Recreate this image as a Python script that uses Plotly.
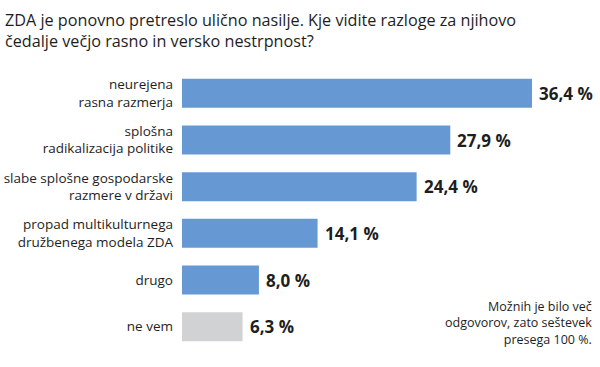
import plotly.graph_objects as go

categories = [
    "neurejena<br>rasna razmerja",
    "splošna<br>radikalizacija politike",
    "slabe splošne gospodarske<br>razmere v državi",
    "propad multikulturnega<br>družbenega modela ZDA",
    "drugo",
    "ne vem",
]
values = [36.4, 27.9, 24.4, 14.1, 8.0, 6.3]
value_labels = ["36,4 %", "27,9 %", "24,4 %", "14,1 %", "8,0 %", "6,3 %"]
colors = ["#6699d3"] * 5 + ["#d1d2d4"]

FONT = "Open Sans"
TXT = "#1e1e1e"

fig = go.Figure()
fig.add_trace(go.Bar(
    x=values, y=categories, orientation="h",
    marker=dict(color=colors, line=dict(width=0)),
    hoverinfo="skip",
))

for v, c, lab in zip(values, categories, value_labels):
    fig.add_annotation(x=v, y=c, text="<b>" + lab + "</b>", showarrow=False,
                       xanchor="left", yanchor="middle", xshift=5,
                       font=dict(family=FONT, size=17, color=TXT))

fig.add_annotation(
    xref="paper", yref="paper", x=1.0, y=0.0, xanchor="right", yanchor="bottom",
    xshift=4, text="Možnih je bilo več<br>odgovorov, zato seštevek<br>presega 100 %.",
    align="right", showarrow=False,
    font=dict(family=FONT, size=12.5, color=TXT),
)

fig.add_annotation(
    xref="paper", yref="paper", x=0, y=1.225, xanchor="left", yanchor="top",
    xshift=-179,
    text="ZDA je ponovno pretreslo ulično nasilje. Kje vidite razloge za njihovo<br>čedalje večjo rasno in versko nestrpnost?",
    align="left", showarrow=False,
    font=dict(family=FONT, size=16.2, color=TXT),
)

fig.update_layout(
    width=600, height=367,
    margin=dict(l=182, r=10, t=70, b=17),
    paper_bgcolor="white", plot_bgcolor="white",
    bargap=0.38,
    showlegend=False,
    xaxis=dict(range=[0, 42.43], visible=False, fixedrange=True, automargin=False),
    yaxis=dict(
        autorange="reversed", showgrid=False, zeroline=False, showline=False,
        ticks="", ticklabelstandoff=8, fixedrange=True, automargin=False,
        tickfont=dict(family=FONT, size=13.5, color=TXT),
    ),
)

fig.write_html("out.html", config={"displayModeBar": False},
               post_script="document.body.style.margin='0';document.body.style.padding='0';")
